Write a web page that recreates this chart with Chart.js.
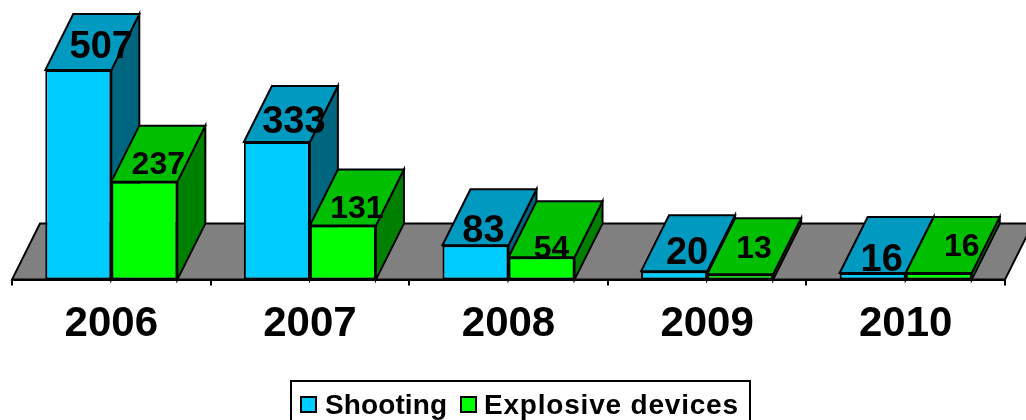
<!DOCTYPE html>
<html>
<head>
<meta charset="utf-8">
<style>html,body{margin:0;padding:0;background:#fff}canvas{display:block}</style>
<script src="https://cdn.jsdelivr.net/npm/chart.js@4"></script>
</head>
<body>
<canvas id="c" width="1026" height="420"></canvas>
<script>
const years = ['2006','2007','2008','2009','2010'];
const shooting = [507,333,83,20,16];
const explosive = [237,131,54,13,16];

const DEPTH = {dx:28, dy:-56};
const FONT = 'bold %px "Liberation Sans", Arial, sans-serif';
const font = s => FONT.replace('%', s);
// label placement relative to each bar's front top centre
const labelStyle = [
  {size:38, nudge:[[23,-23],[17,-19],[8,-14],[13,-18],[9,-12]]},
  {size:32, nudge:[[14,-16],[14,-16],[10,-8],[14,-25],[23,-26]]}
];
const faceColours = [
  {top:'#0099BF', side:'#006680', front:'#00CCFF'},
  {top:'#00BF00', side:'#008000', front:'#00FF00'}
];
const legendLayout = [
  {box:301, text:325, spacing:'0.1px'},
  {box:461, text:484, spacing:'0.8px'}
];

function poly(ctx, pts, fill){
  ctx.beginPath();
  pts.forEach((p,i)=> i?ctx.lineTo(p[0],p[1]):ctx.moveTo(p[0],p[1]));
  ctx.closePath();
  ctx.fillStyle = fill; ctx.fill();
  ctx.lineWidth = 2; ctx.strokeStyle = '#000'; ctx.lineJoin='miter'; ctx.stroke();
}

const bars3d = {
  id:'bars3d',
  beforeDatasetsDraw(chart){
    const {ctx, chartArea:a} = chart, {dx,dy} = DEPTH;
    ctx.save();
    poly(ctx, [[a.left,a.bottom],[a.left+dx,a.bottom+dy],[a.right+dx,a.bottom+dy],[a.right,a.bottom]], '#808080');
    chart.data.datasets.forEach((ds,i)=>{
      chart.getDatasetMeta(i).data.forEach(el=>{
        const p = el.getProps(['x','y','base','width'], true);
        const l = p.x-p.width/2, r = p.x+p.width/2;
        poly(ctx, [[r,p.y],[r+dx,p.y+dy],[r+dx,p.base+dy],[r,p.base]], faceColours[i].side);
        poly(ctx, [[l,p.y],[l+dx,p.y+dy],[r+dx,p.y+dy],[r,p.y]], faceColours[i].top);
      });
    });
    ctx.restore();
  },
  afterDatasetsDraw(chart){
    const {ctx} = chart;
    ctx.save();
    ctx.fillStyle='#000'; ctx.textAlign='center'; ctx.textBaseline='middle';
    chart.data.datasets.forEach((ds,i)=>{
      ctx.font = font(labelStyle[i].size);
      chart.getDatasetMeta(i).data.forEach((el,j)=>{
        const p = el.getProps(['x','y'], true), n = labelStyle[i].nudge[j];
        ctx.fillText(String(ds.data[j]), p.x+n[0], p.y+n[1]);
      });
    });
    ctx.restore();
  },
  afterDraw(chart){
    const {ctx} = chart;
    ctx.save();
    ctx.lineWidth=2; ctx.strokeStyle='#000';
    ctx.strokeRect(291,381,459,60);
    ctx.font = font(28); ctx.textBaseline='alphabetic'; ctx.textAlign='left';
    chart.data.datasets.forEach((ds,i)=>{
      const L = legendLayout[i];
      if('letterSpacing' in ctx) ctx.letterSpacing=L.spacing;
      ctx.fillStyle = faceColours[i].front;
      ctx.fillRect(L.box,397,15,15);
      ctx.strokeRect(L.box,397,15,15);
      ctx.fillStyle='#000';
      ctx.fillText(ds.label, L.text, 414);
    });
    ctx.restore();
  }
};

new Chart(document.getElementById('c'), {
  type:'bar',
  data:{
    labels:years,
    datasets:[
      {label:'Shooting', data:shooting, backgroundColor:faceColours[0].front},
      {label:'Explosive devices', data:explosive, backgroundColor:faceColours[1].front}
    ].map(d=>({...d, borderColor:'#000', borderWidth:2, borderSkipped:false,
      categoryPercentage:0.665, barPercentage:1}))
  },
  options:{
    responsive:false, animation:false,
    layout:{padding:{left:12,right:21,top:11,bottom:56}},
    plugins:{legend:{display:false}, tooltip:{enabled:false}},
    scales:{
      x:{
        grid:{drawOnChartArea:false, color:'#000', lineWidth:2, tickLength:6},
        border:{display:true,color:'#000',width:2},
        ticks:{font:{family:'"Liberation Sans", Arial, sans-serif',size:42,weight:'bold'},color:'#000',padding:14,maxRotation:0}
      },
      y:{display:false,min:0,max:650}
    }
  },
  plugins:[bars3d]
});
</script>
</body>
</html>
